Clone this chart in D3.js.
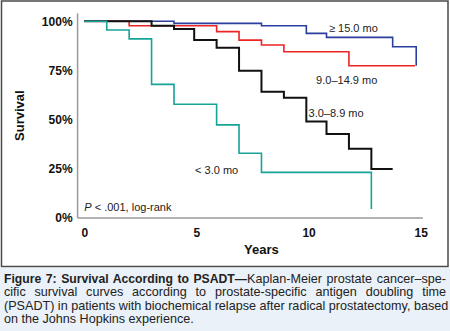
<!DOCTYPE html>
<html>
<head>
<meta charset="utf-8">
<script src="https://cdn.jsdelivr.net/npm/d3@7"></script>
<style>
  body { margin: 0; background: #fff; font-family: Arial, "Liberation Sans", Helvetica, sans-serif; }
  #wrap { width: 450px; height: 331px; position: relative; overflow: hidden; }
  svg { display: block; }
  .caption {
    background: #eaf1f8;
    height: 63px;
    padding: 5px 4px 0 4px;
    font-size: 12.6px;
    line-height: 13.4px;
    color: #222;
  }
  .caption div { text-align: justify; text-align-last: justify; white-space: nowrap; }
  .caption div.last { text-align-last: left; }
  .caption b { font-weight: bold; font-size: 12.2px; }
</style>
</head>
<body>
<div id="wrap">
  <svg id="chart" width="450" height="268"></svg>
  <div class="caption">
    <div><b>Figure 7: Survival According to PSADT—</b>Kaplan-Meier prostate cancer–spe-</div>
    <div>cific survival curves according to prostate-specific antigen doubling time</div>
    <div>(PSADT) in patients with biochemical relapse after radical prostatectomy, based</div>
    <div class="last">on the Johns Hopkins experience.</div>
  </div>
</div>
<script>
// Kaplan-Meier steps (years, % surviving)
var groups = ['≥ 15.0 mo', '9.0–14.9 mo', '3.0–8.9 mo', '< 3.0 mo'];
var colors = ['#2a3f9d', '#ee2424', '#111111', '#17a398'];

var blueTimes = [0, 4.0, 7.9, 9.9, 10.8, 13.75, 14.8];
var blueSurv  = [100, 98.9, 97.7, 93.8, 91.8, 87.0, 77.4];
var blueEnd = 14.8;

var redTimes = [0, 2.0, 5.9, 6.9, 7.9, 8.9, 11.8];
var redSurv  = [100, 97.7, 94.7, 90.4, 87.9, 84.5, 77.4];
var redEnd = 14.75;

var blackTimes = [0, 3.0, 4.0, 4.9, 5.9, 6.9, 7.9, 8.9, 9.9, 10.8, 11.8, 12.8];
var blackSurv  = [100, 97.7, 96, 90.4, 86.5, 74.8, 64.2, 61.1, 49, 42.7, 35.2, 24.9];
var blackEnd = 13.75;

var tealTimes = [0, 1.0, 2.0, 3.0, 4.0, 5.9, 6.9, 7.9, 12.8];
var tealSurv  = [100, 95.5, 91, 67.9, 57.8, 47.3, 32.9, 23.2, 4.6];
var tealEnd = 12.8;

var xTicks = [0, 5, 10, 15];
var yTicks = [0, 25, 50, 75, 100];

var series = [
  { name: groups[0], color: colors[0], t: blueTimes, s: blueSurv, end: blueEnd, w: 1.6 },
  { name: groups[1], color: colors[1], t: redTimes, s: redSurv, end: redEnd, w: 1.6 },
  { name: groups[2], color: colors[2], t: blackTimes, s: blackSurv, end: blackEnd, w: 2 },
  { name: groups[3], color: colors[3], t: tealTimes, s: tealSurv, end: tealEnd, w: 1.6 }
];

var svg = d3.select('#chart');

var x = d3.scaleLinear().domain([0, 15]).range([84.3, 420.7]);
var y = d3.scaleLinear().domain([0, 100]).range([218, 21.2]);

// frame
svg.append('rect')
  .attr('x', 1.5).attr('y', 1)
  .attr('width', 446.5).attr('height', 265.5)
  .attr('fill', '#fff')
  .attr('stroke', '#4a4a4a')
  .attr('stroke-width', 1.5);

// axis lines
svg.append('line')
  .attr('x1', x(-0.3)).attr('x2', x(-0.3))
  .attr('y1', y(104)).attr('y2', y(0))
  .attr('stroke', '#9a9a9a').attr('stroke-width', 1.5);
svg.append('line')
  .attr('x1', x(-0.3)).attr('x2', x(15.1))
  .attr('y1', y(0)).attr('y2', y(0))
  .attr('stroke', '#9a9a9a').attr('stroke-width', 1.5);

// tick labels
var yAxis = svg.append('g')
  .attr('transform', 'translate(' + (x(-0.3) - 5) + ',0)')
  .call(d3.axisLeft(y).tickValues(yTicks).tickSize(0).tickPadding(0)
    .tickFormat(function(d) { return d + '%'; }));
yAxis.select('.domain').remove();
yAxis.selectAll('text')
  .attr('font-family', 'Arial, "Liberation Sans", sans-serif')
  .attr('font-size', 12).attr('font-weight', 'bold').attr('fill', '#111');

var xAxis = svg.append('g')
  .attr('transform', 'translate(0,' + y(0) + ')')
  .call(d3.axisBottom(x).tickValues(xTicks).tickSize(0).tickPadding(10));
xAxis.select('.domain').remove();
xAxis.selectAll('text')
  .attr('font-family', 'Arial, "Liberation Sans", sans-serif')
  .attr('font-size', 12).attr('font-weight', 'bold').attr('fill', '#111');

// axis titles
svg.append('text')
  .attr('x', x(7.9)).attr('y', 254)
  .attr('text-anchor', 'middle')
  .attr('font-size', 13).attr('font-weight', 'bold').attr('fill', '#111')
  .text('Years');
svg.append('text')
  .attr('transform', 'translate(24,' + y(52) + ') rotate(-90)')
  .attr('text-anchor', 'middle')
  .attr('font-size', 13).attr('font-weight', 'bold').attr('fill', '#111')
  .text('Survival');

// step curves
var line = d3.line()
  .x(function(d) { return x(d[0]); })
  .y(function(d) { return y(d[1]); })
  .curve(d3.curveStepAfter);

series.forEach(function(sr) {
  var pts = sr.t.map(function(t, i) { return [t, sr.s[i]]; });
  pts.push([sr.end, sr.s[sr.s.length - 1]]);
  svg.append('path')
    .attr('d', line(pts))
    .attr('fill', 'none')
    .attr('stroke', sr.color)
    .attr('stroke-width', sr.w);
});

// curve labels
var labels = [
  { text: groups[0], at: [12.0, 94.5], anchor: 'middle' },
  { text: groups[1], at: [11.7, 68], anchor: 'middle' },
  { text: groups[2], at: [10.0, 51.3], anchor: 'start' },
  { text: groups[3], at: [5.9, 22.4], anchor: 'middle' }
];
svg.selectAll('.lbl')
  .data(labels)
  .enter()
  .append('text')
  .attr('class', 'lbl')
  .attr('x', function(d) { return x(d.at[0]); })
  .attr('y', function(d) { return y(d.at[1]); })
  .attr('text-anchor', function(d) { return d.anchor; })
  .attr('font-size', 11)
  .attr('fill', '#222')
  .text(function(d) { return d.text; });

var p = svg.append('text')
  .attr('x', x(0)).attr('y', y(3.6))
  .attr('font-size', 11).attr('fill', '#222');
p.append('tspan').attr('font-style', 'italic').text('P');
p.append('tspan').text(' < .001, log-rank');
</script>
</body>
</html>
